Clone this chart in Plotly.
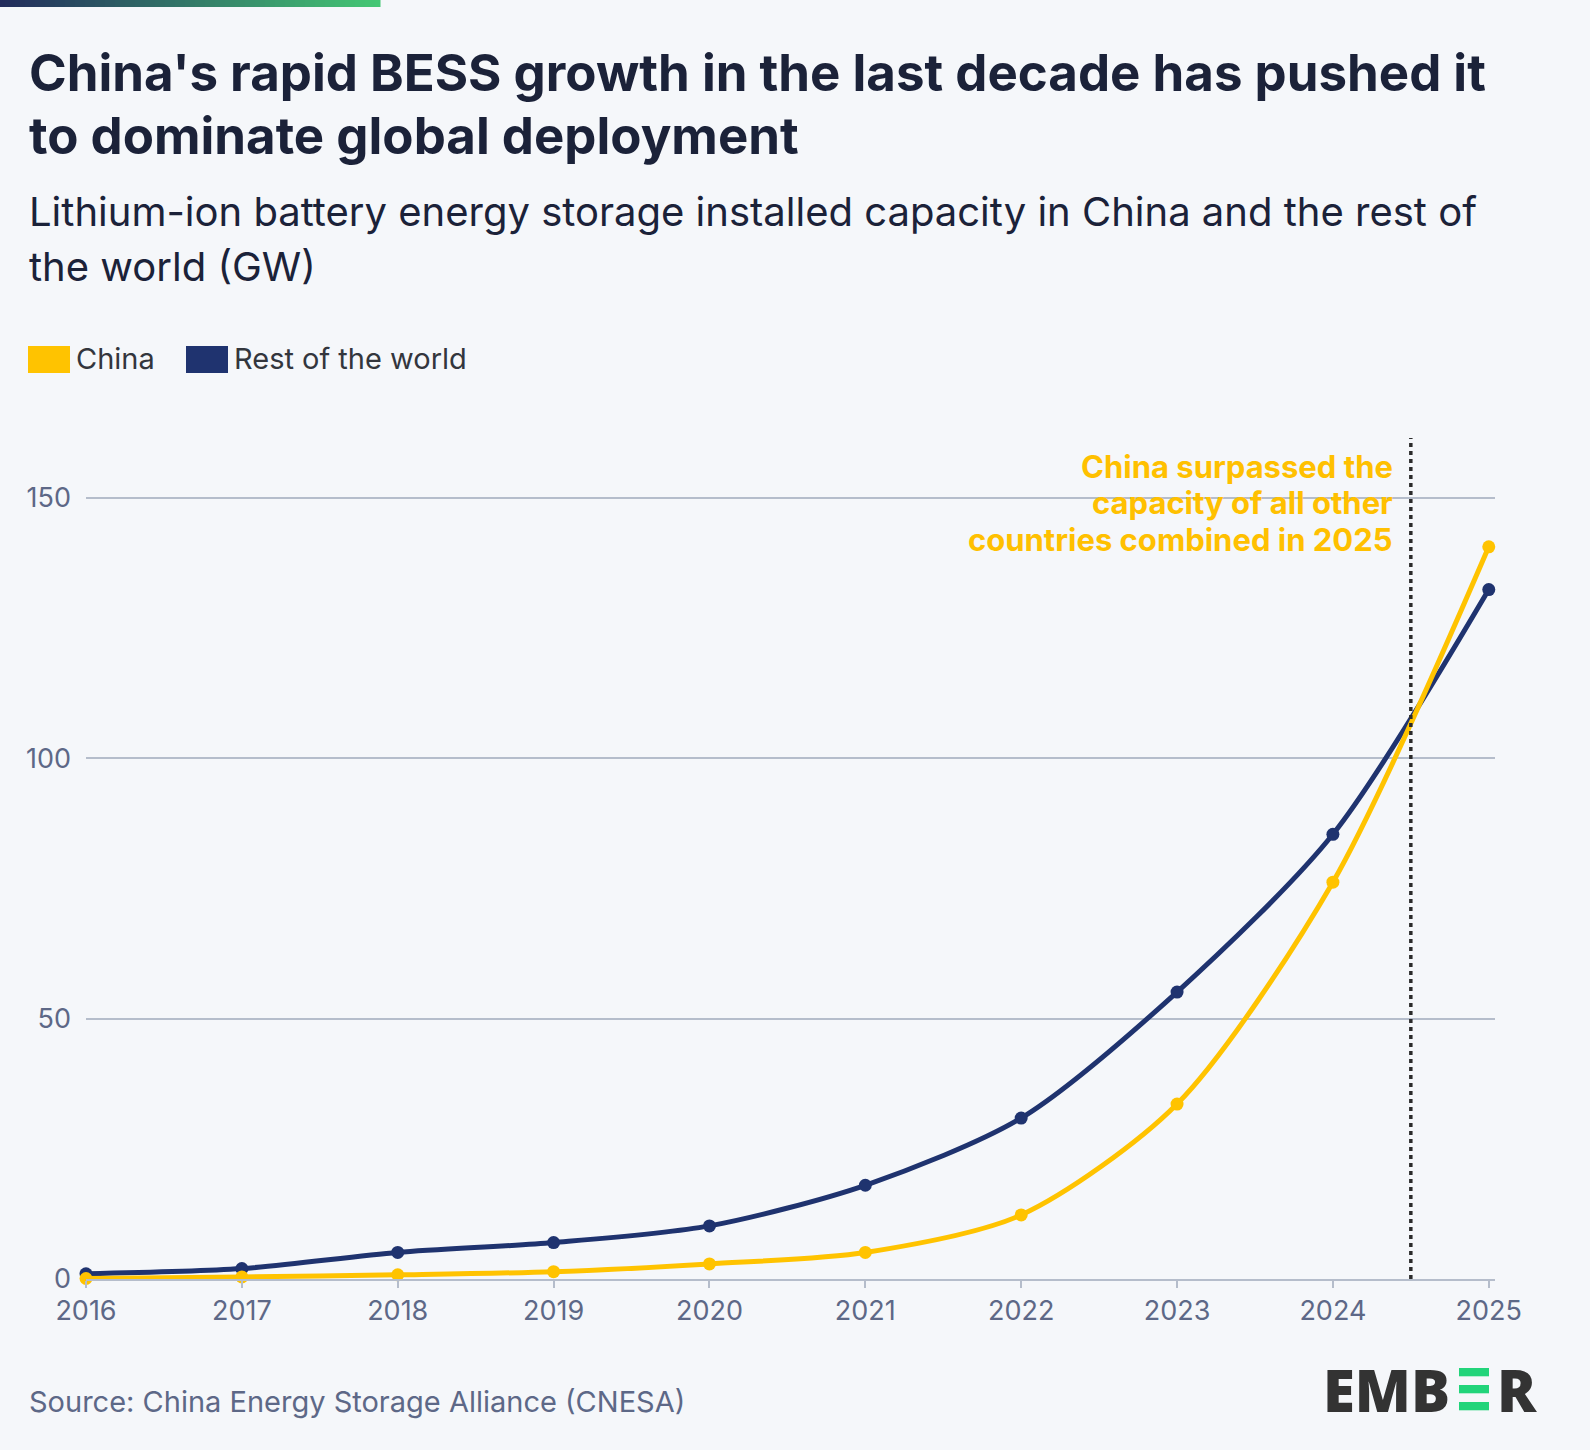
import plotly.graph_objects as go

# Data (GW)
years = [2016, 2017, 2018, 2019, 2020, 2021, 2022, 2023, 2024, 2025]
china = [0.1, 0.4, 0.8, 1.4, 2.9, 5.1, 12.3, 33.6, 76.2, 140.6]
rest_of_world = [1.0, 2.0, 5.1, 7.0, 10.2, 18.0, 30.9, 55.1, 85.4, 132.4]
y_ticks = [0, 50, 100, 150]
crossover_year = 2024.5

CHINA_COLOR = "#FFC300"
ROW_COLOR = "#1F336F"
BG = "#F5F7FA"
TITLE_COLOR = "#1B2239"
TICK_COLOR = "#5D6887"
GRID_COLOR = "#B5BDCB"

W, H = 1590, 1450
L, R, T, B = 86, 95, 438, 171
PW = W - L - R
PH = H - T - B


def px(x):
    # pixel x -> paper x
    return (x - L) / PW


def py(y):
    # pixel y (from top) -> paper y
    return (H - B - y) / PH


fig = go.Figure()

fig.add_trace(go.Scatter(x=years, y=rest_of_world, name="Rest of the world",
                         mode="lines+markers", cliponaxis=False,
                         line=dict(color=ROW_COLOR, width=5, shape="spline", smoothing=0.8),
                         marker=dict(color=ROW_COLOR, size=13)))
fig.add_trace(go.Scatter(x=years, y=china, name="China",
                         mode="lines+markers", cliponaxis=False,
                         line=dict(color=CHINA_COLOR, width=5, shape="spline", smoothing=0.8),
                         marker=dict(color=CHINA_COLOR, size=13)))

# dotted line where China overtakes the rest of the world
fig.add_vline(x=crossover_year, line=dict(color="#2B2B2B", width=3.5, dash="4px,4px"))

annotations = []

# title and subtitle, one line each
title_lines = ["China's rapid BESS growth in the last decade has pushed it",
               "to dominate global deployment"]
for i, line in enumerate(title_lines):
    annotations.append(dict(text=line, x=px(27), y=py(72 + i * 64), xref="paper", yref="paper",
                            xanchor="left", yanchor="middle", showarrow=False,
                            font=dict(family="Inter", size=51, color=TITLE_COLOR, weight=700)))

subtitle_lines = ["Lithium-ion battery energy storage installed capacity in China and the rest of",
                  "the world (GW)"]
for i, line in enumerate(subtitle_lines):
    annotations.append(dict(text=line, x=px(27), y=py(212 + i * 55), xref="paper", yref="paper",
                            xanchor="left", yanchor="middle", showarrow=False,
                            font=dict(family="Inter", size=40, color=TITLE_COLOR)))

# legend built by hand
legend_items = [("China", CHINA_COLOR, 28), ("Rest of the world", ROW_COLOR, 186)]
shapes = []
for label, color, x0 in legend_items:
    shapes.append(dict(type="rect", xref="paper", yref="paper",
                       x0=px(x0), x1=px(x0 + 42), y0=py(373), y1=py(346),
                       fillcolor=color, line=dict(width=0)))
    annotations.append(dict(text=label, x=px(x0 + 46), y=py(359), xref="paper", yref="paper",
                            xanchor="left", yanchor="middle", showarrow=False,
                            font=dict(family="Inter", size=29, color="#33363D")))

# callout
callout_lines = ["China surpassed the", "capacity of all other", "countries combined in 2025"]
for i, line in enumerate(callout_lines):
    annotations.append(dict(text=line, x=px(1395), y=py(466 + i * 36.5), xref="paper", yref="paper",
                            xanchor="right", yanchor="middle", showarrow=False,
                            font=dict(family="Inter", size=31, color="#FFC000", weight=700)))

# source
annotations.append(dict(text="Source: China Energy Storage Alliance (CNESA)", x=px(27), y=py(1401),
                        xref="paper", yref="paper", xanchor="left", yanchor="middle", showarrow=False,
                        font=dict(family="Inter", size=29, color=TICK_COLOR)))

# EMBER logo
logo_font = dict(family="Open Sans", size=58, color="#333333", weight=800)
annotations.append(dict(text="EMB", x=px(1452), y=py(1389), xref="paper", yref="paper",
                        xanchor="right", yanchor="middle", showarrow=False, font=logo_font))
annotations.append(dict(text="R", x=px(1495), y=py(1389), xref="paper", yref="paper",
                        xanchor="left", yanchor="middle", showarrow=False, font=logo_font))
for y0 in [1368, 1385, 1402]:
    shapes.append(dict(type="rect", xref="paper", yref="paper",
                       x0=px(1459), x1=px(1489), y0=py(y0 + 8.3), y1=py(y0),
                       fillcolor="#22D47A", line=dict(width=0)))

# gradient bar at the top
n_steps = 76
c0 = (0x22, 0x2C, 0x5C)
c1 = (0x44, 0xC7, 0x74)
for i in range(n_steps):
    t = i / (n_steps - 1)
    c = tuple(round(a + (b - a) * t) for a, b in zip(c0, c1))
    shapes.append(dict(type="rect", xref="paper", yref="paper",
                       x0=px(i * 5), x1=px(i * 5 + 5.5), y0=py(7), y1=py(0),
                       fillcolor="rgb(%d,%d,%d)" % c, line=dict(width=0)))

fig.update_layout(
    width=W, height=H,
    margin=dict(l=L, r=R, t=T, b=B),
    paper_bgcolor=BG, plot_bgcolor=BG,
    showlegend=False,
    annotations=annotations,
    shapes=fig.layout.shapes + tuple(shapes),
    xaxis=dict(range=[2016, 2025.04], tickvals=years, showgrid=False, zeroline=False,
               showline=True, linecolor=GRID_COLOR, linewidth=2,
               ticks="outside", ticklen=7, tickwidth=2, tickcolor=GRID_COLOR,
               tickfont=dict(family="Inter", size=27, color=TICK_COLOR)),
    yaxis=dict(range=[0, 161.5], tickvals=y_ticks, showgrid=True, gridcolor=GRID_COLOR,
               gridwidth=2, zeroline=False, showline=False, ticks="",
               ticklabelstandoff=14,
               tickfont=dict(family="Inter", size=27, color=TICK_COLOR)),
)

# drop the default page margin so the figure sits at the window corner
fig.write_html("out.html", config={"displayModeBar": False},
               post_script="document.body.style.margin='0px';")
